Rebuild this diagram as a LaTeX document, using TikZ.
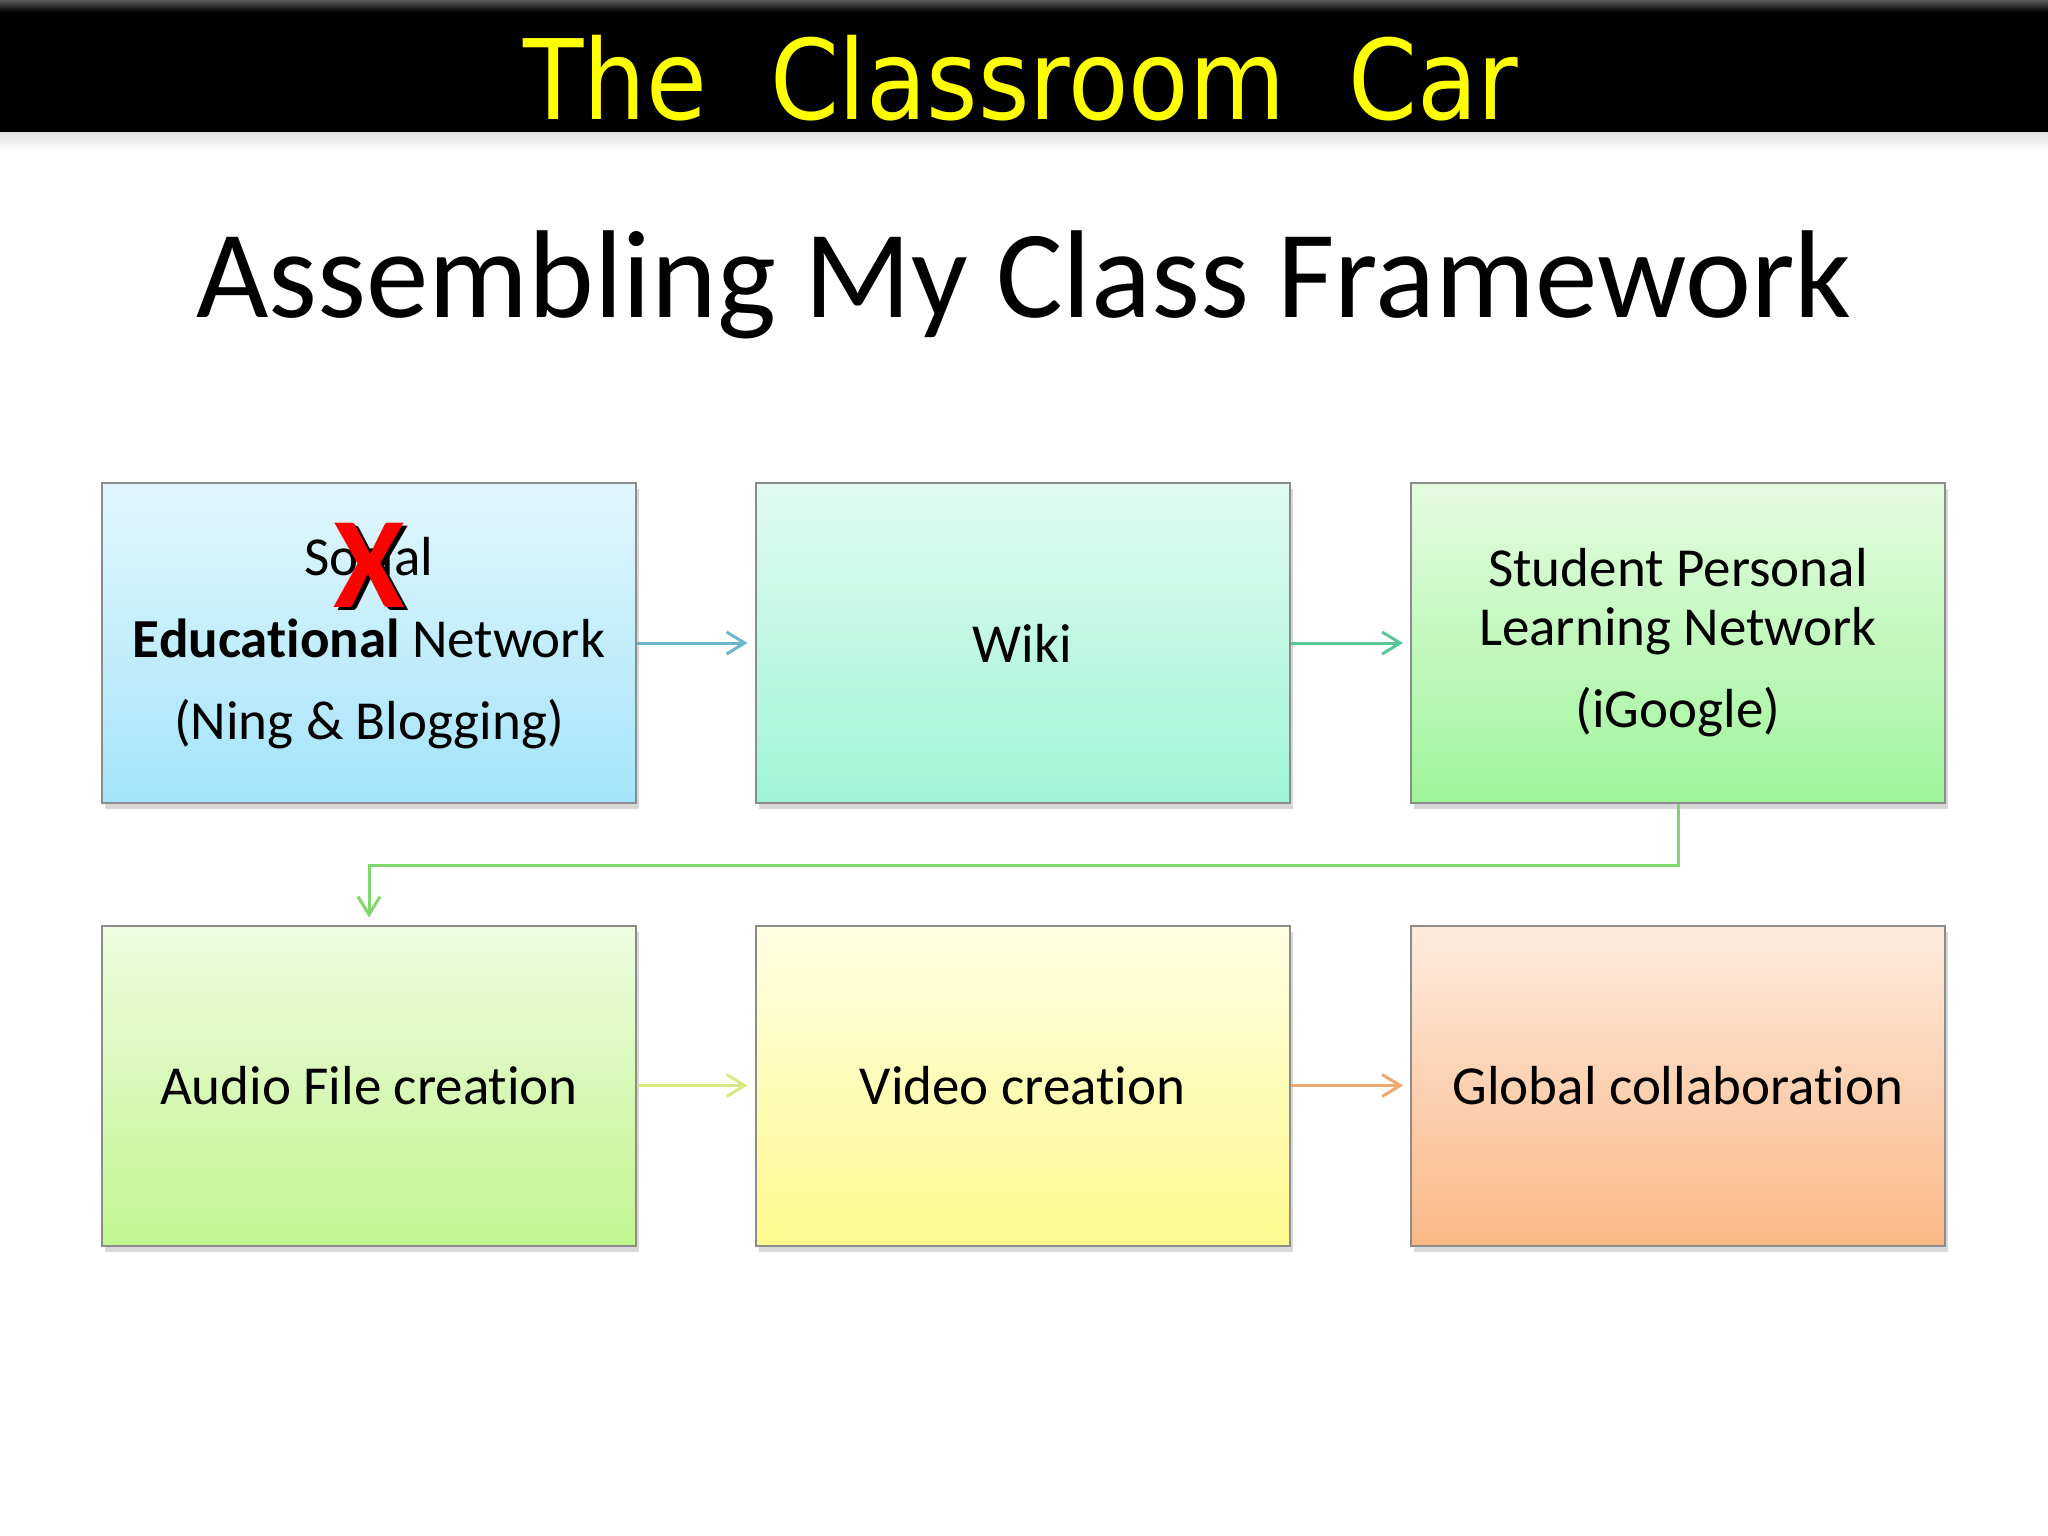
\documentclass[tikz,border=0pt]{standalone}
\usepackage{fontspec}
\setmainfont{Carlito}[Ligatures=NoCommon]
\newfontfamily\hdrfont{DejaVu Sans}
\usetikzlibrary{arrows.meta,shadows,positioning}
\definecolor{hdryellow}{HTML}{FFFF00}
\definecolor{boxedge}{HTML}{8C8C8C}
\definecolor{aOne}{HTML}{6DB6CE}
\definecolor{aTwo}{HTML}{58C896}
\definecolor{aThree}{HTML}{7ED86B}
\definecolor{aFour}{HTML}{D5EA80}
\definecolor{aFive}{HTML}{F0A870}
\definecolor{tOne}{HTML}{E2F7FD}\definecolor{bOne}{HTML}{A4E4FA}
\definecolor{tTwo}{HTML}{E0FBF1}\definecolor{bTwo}{HTML}{9FF4D6}
\definecolor{tThree}{HTML}{E5FBE0}\definecolor{bThree}{HTML}{9FF59B}
\definecolor{tFour}{HTML}{EEFCE0}\definecolor{bFour}{HTML}{C2F58F}
\definecolor{tFive}{HTML}{FEFEE2}\definecolor{bFive}{HTML}{FCFA8E}
\definecolor{tSix}{HTML}{FDEBDD}\definecolor{bSix}{HTML}{FBB887}
\tikzset{
  fbox/.style={draw=boxedge, line width=2pt, minimum width=534pt, minimum height=320pt,
    inner sep=0pt, align=center, font=\fontsize{55}{66}\selectfont,
    drop shadow={shadow xshift=3pt, shadow yshift=-6pt, opacity=0.3}},
  flow/.style={line width=3pt, -{Straight Barb[length=18pt,width=22pt,line width=3pt]}, shorten >=7pt},
  xmark/.style={inner sep=0pt, font=\fontsize{130}{140}\selectfont\bfseries}
}
\begin{document}
\begin{tikzpicture}[x=1pt,y=-1pt]
\useasboundingbox (0,0) rectangle (2048,1536);
\fill[white] (0,0) rectangle (2048,1536);
% header bar
\shade[top color=black!12, bottom color=white] (0,132) rectangle (2048,152);
\fill[black] (0,0) rectangle (2048,132);
\shade[top color=black!65, bottom color=black] (0,0) rectangle (2048,12);
\node[anchor=base, text=hdryellow, inner sep=0pt] (hdr) at (1021,120)
  {\scalebox{0.89}[1]{\hdrfont\fontsize{111}{120}\selectfont The~~Classroom~~Car}};
% main title
\node[anchor=base, inner sep=0pt] (title) at (1024,317)
  {\fontsize{125}{150}\selectfont Assembling My Class Framework};
% boxes
\node[fbox, top color=tOne, bottom color=bOne] (b1) at (369,643)
  {Social\\[16pt]\textbf{Educational} Network\\[16pt](Ning \& Blogging)};
\node[fbox, top color=tTwo, bottom color=bTwo] (b2) at (1022.5,643) {Wiki};
\node[fbox, top color=tThree, bottom color=bThree] (b3) at (1678,643)
  {Student Personal\\[-7pt]Learning Network\\[16pt](iGoogle)};
\node[fbox, top color=tFour, bottom color=bFour] (b4) at (369,1085.5) {Audio File creation};
\node[fbox, top color=tFive, bottom color=bFive] (b5) at (1022.5,1085.5) {Video creation};
\node[fbox, top color=tSix, bottom color=bSix] (b6) at (1678,1085.5) {Global collaboration};
% red X over "Social"
\node[xmark, text=black] (xs) at (373,568) {X};
\node[xmark, text=red] (xm) at (369,565) {X};
% connectors
\draw[flow, aOne] (b1.east) -- (b2.west);
\draw[flow, aTwo] (b2.east) -- (b3.west);
\draw[flow, aThree] (b3.south) |- (369,865) coordinate (turn) -- (b4.north);
\draw[flow, aFour] (b4.east) -- (b5.west);
\draw[flow, aFive] (b5.east) -- (b6.west);
\end{tikzpicture}
\end{document}
